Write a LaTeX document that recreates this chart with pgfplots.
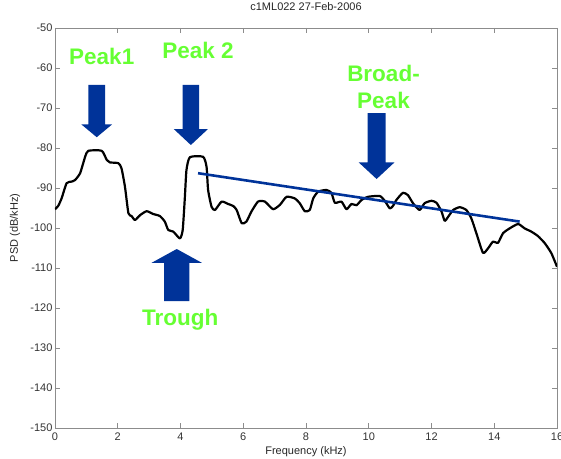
\documentclass[border=0pt]{standalone}
\usepackage{pgfplots}
\pgfplotsset{compat=1.18}
\usepackage{fontspec}
\setmainfont{Liberation Sans}
\definecolor{arrowblue}{RGB}{0,51,153}
\definecolor{labelgreen}{RGB}{102,255,51}
\definecolor{framegray}{RGB}{140,140,140}

% block arrow pointing down: centre x, top, head base, tip, shaft half-width, head half-width
\newcommand{\downblock}[6]{%
  \fill[arrowblue] (axis cs:#1-#5,#2) -- (axis cs:#1+#5,#2) -- (axis cs:#1+#5,#3)
    -- (axis cs:#1+#6,#3) -- (axis cs:#1,#4) -- (axis cs:#1-#6,#3)
    -- (axis cs:#1-#5,#3) -- cycle;}
% block arrow pointing up: centre x, bottom, head base, tip, shaft half-width, head half-width
\newcommand{\upblock}[6]{%
  \fill[arrowblue] (axis cs:#1-#5,#2) -- (axis cs:#1+#5,#2) -- (axis cs:#1+#5,#3)
    -- (axis cs:#1+#6,#3) -- (axis cs:#1,#4) -- (axis cs:#1-#6,#3)
    -- (axis cs:#1-#5,#3) -- cycle;}

\begin{document}
\begin{tikzpicture}
\begin{axis}[
  name=ax,
  scale only axis,
  width=502pt, height=400pt,
  xmin=0, xmax=16, ymin=-150, ymax=-50,
  xtick={0,2,...,16}, ytick={-150,-140,...,-50},
  tick align=inside, major tick length=5pt,
  xtick pos=both, ytick pos=both,
  axis line style={framegray, line width=0.8pt},
  every tick/.style={framegray, line width=0.6pt},
  tick label style={font=\fontsize{11}{13}\selectfont, text=black!80},
  /pgf/number format/assume math mode=true,
  xticklabel style={yshift=-1pt},
  yticklabel style={xshift=1pt},
  title={c1ML022 27-Feb-2006},
  title style={at={(axis description cs:0.5,1.0375)}, anchor=center,
    font=\fontsize{11}{13}\selectfont, text=black!85},
  xlabel={Frequency (kHz)},
  every axis x label/.style={at={(axis description cs:0.5,-0.06)}, anchor=center,
    font=\fontsize{11}{13}\selectfont, text=black!85},
  ylabel={PSD (dB/kHz)},
  every axis y label/.style={at={(axis description cs:-0.0797,0.5)}, rotate=90,
    anchor=center, font=\fontsize{11}{13}\selectfont, text=black!85},
]
% power spectral density
\addplot[black, line width=2.2pt, smooth, tension=0.35, line join=round] coordinates {
(0.00,-95.3) (0.10,-94.5) (0.21,-92.6) (0.37,-88.8) (0.53,-88.4) (0.64,-88.0)
(0.80,-86.3) (0.96,-82.2) (1.06,-80.7) (1.49,-80.7) (1.65,-83.0) (1.75,-83.6)
(2.02,-83.8) (2.12,-85.1) (2.23,-89.7) (2.34,-96.3) (2.44,-97.0) (2.55,-98.0)
(2.71,-96.8) (2.92,-95.8) (3.13,-96.5) (3.34,-97.0) (3.50,-98.4) (3.61,-100.5)
(3.77,-100.9) (3.98,-102.6) (4.07,-100.5) (4.14,-92.2) (4.19,-85.5) (4.30,-82.3)
(4.72,-82.2) (4.83,-84.7) (4.88,-90.5) (4.99,-94.7) (5.10,-95.5) (5.31,-93.4)
(5.52,-94.0) (5.68,-94.5) (5.79,-95.5) (5.95,-98.8) (6.10,-98.4) (6.26,-95.9)
(6.47,-93.4) (6.69,-93.4) (6.95,-95.3) (7.17,-94.2) (7.38,-92.2) (7.64,-92.6)
(7.80,-93.8) (7.96,-95.8) (8.12,-95.5) (8.23,-92.6) (8.39,-90.9) (8.65,-90.5)
(8.81,-91.2) (8.92,-93.7) (9.13,-93.4) (9.29,-95.3) (9.45,-94.0) (9.61,-94.3)
(9.77,-93.0) (9.98,-92.2) (10.35,-92.0) (10.51,-93.2) (10.67,-95.1) (10.77,-94.5)
(10.88,-93.0) (11.09,-91.2) (11.25,-91.8) (11.41,-93.8) (11.62,-95.5) (11.78,-93.8)
(12.00,-93.2) (12.16,-93.7) (12.32,-95.9) (12.42,-98.2) (12.53,-97.2) (12.69,-95.5)
(12.90,-94.8) (13.11,-95.5) (13.27,-97.6) (13.43,-101.3) (13.64,-106.2) (13.80,-105.1)
(13.96,-103.4) (14.12,-103.7) (14.28,-101.3) (14.49,-100.1) (14.76,-99.0) (14.97,-100.1)
(15.18,-100.9) (15.39,-102.0) (15.61,-103.8) (15.82,-106.3) (16.00,-109.7)
};
% broad-peak trend line
\addplot[arrowblue, line width=2.6pt] coordinates {(4.56,-86.3) (14.81,-98.4)};

% annotation arrows
\downblock{1.33}{-64.25}{-74.1}{-77.3}{0.265}{0.49}
\downblock{4.33}{-64.25}{-75.3}{-79.25}{0.265}{0.54}
\downblock{10.25}{-71.3}{-83.6}{-87.75}{0.29}{0.57}
\upblock{3.88}{-118.25}{-108.7}{-105.25}{0.40}{0.80}

% annotation labels
\begin{scope}[every node/.style={text=labelgreen, font=\fontsize{22.5}{26}\selectfont\bfseries, anchor=base, inner sep=0pt}]
\node at (axis cs:1.49,-59.25) {Peak1};
\node at (axis cs:4.56,-57.6) {Peak 2};
\node at (axis cs:10.47,-63.4) {Broad-};
\node at (axis cs:10.47,-70.1) {Peak};
\node at (axis cs:3.99,-124.25) {Trough};
\end{scope}
\end{axis}
\pgfresetboundingbox
\path ([shift={(-55pt,-30pt)}]ax.south west) rectangle ([shift={(4pt,28pt)}]ax.north east);
\end{tikzpicture}
\end{document}
